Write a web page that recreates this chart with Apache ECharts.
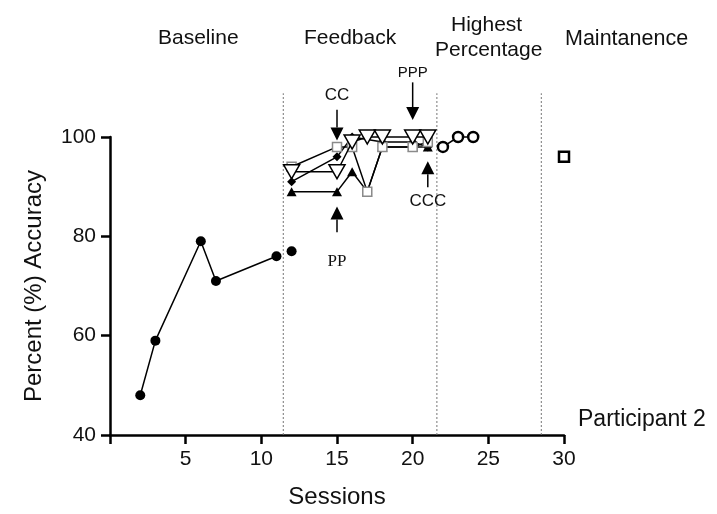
<!DOCTYPE html>
<html>
<head>
<meta charset="utf-8">
<script src="https://cdn.jsdelivr.net/npm/echarts@6/dist/echarts.min.js"></script>
<style>
  html, body { margin: 0; padding: 0; background: #fff; }
  #chart { width: 717px; height: 514px; }
</style>
</head>
<body>
<div id="chart"></div>
<script>
// baseline phase
var baselineSessions = [2, 3, 6, 7, 11];
var baselineValues = [48, 59, 79, 71, 76];
var lateBaselineSessions = [12];
var lateBaselineValues = [77];

// feedback phase, one array per marker type
var feedbackSessions = [12, 15, 16, 17, 18, 20, 21];
var openTriangleValues = [93, 93, 99, 100, 100, 100, 100];
var openSquareValues = [94, 98, 98, 89, 98, 98, 99];
var filledTriangleValues = [89, 89, 93, 89, 98, 98, 98];
var diamondSessions = [12, 15, 16, 18, 20, 21];
var diamondValues = [91, 96, 100, 99, 99, 98];

// highest percentage + maintenance
var highestSessions = [22, 23, 24];
var highestValues = [98, 100, 100];
var maintenanceSessions = [30];
var maintenanceValues = [96];

// phase change lines
var phaseBreaks = [11.45, 21.6, 28.5];

// arrow annotations
var arrowLabels = ['CC', 'PPP', 'PP', 'CCC'];
var arrowSessions = [15, 20, 15, 21];
var arrowStart = [105.5, 111, 80.8, 89.9];
var arrowTip = [99.3, 103.4, 86, 95.1];
var arrowLabelValues = [108.4, 113, 74.9, 87];

var xTicks = [0, 5, 10, 15, 20, 25, 30];
var yTicks = [40, 60, 80, 100];

var FONT = '"Liberation Sans", Arial, sans-serif';

function zip(xs, ys) {
    return xs.map(function (x, i) { return [x, ys[i]]; });
}

var myChart = echarts.init(document.getElementById('chart'));

var lineBase = {
    type: 'line',
    clip: false,
    animation: false,
    lineStyle: { color: '#000', width: 1.5 },
    emphasis: { disabled: true }
};

function lineSeries(extra) {
    return Object.assign({}, lineBase, extra);
}

var option = {
    animation: false,
    grid: { left: 110, right: 153, top: 137, bottom: 79 },
    xAxis: {
        type: 'value',
        min: xTicks[0],
        max: xTicks[xTicks.length - 1],
        interval: 5,
        splitLine: { show: false },
        axisLine: { lineStyle: { color: '#000', width: 2.5 } },
        axisTick: { length: 9, lineStyle: { color: '#000', width: 2.5 } },
        axisLabel: {
            color: '#111', fontSize: 21, fontFamily: FONT, margin: 14,
            formatter: function (v) { return v === 0 ? '' : String(v); }
        },
        name: 'Sessions',
        nameLocation: 'middle',
        nameGap: 50,
        nameTextStyle: { color: '#111', fontSize: 24, fontFamily: FONT }
    },
    yAxis: {
        type: 'value',
        min: yTicks[0],
        max: yTicks[yTicks.length - 1],
        interval: 20,
        splitLine: { show: false },
        axisLine: { show: true, lineStyle: { color: '#000', width: 2.5 } },
        axisTick: { show: true, length: 9, lineStyle: { color: '#000', width: 2.5 } },
        axisLabel: { color: '#111', fontSize: 21, fontFamily: FONT, margin: 14 },
        name: 'Percent (%) Accuracy',
        nameLocation: 'middle',
        nameRotate: 90,
        nameGap: 64,
        nameTextStyle: { color: '#111', fontSize: 24, fontFamily: FONT }
    },
    graphic: [
        { type: 'text', left: 158, top: 28, style: { text: 'Baseline', fontSize: 21, fontFamily: FONT, fill: '#111' } },
        { type: 'text', left: 304, top: 28, style: { text: 'Feedback', fontSize: 21, fontFamily: FONT, fill: '#111' } },
        { type: 'text', left: 451, top: 15, style: { text: 'Highest', fontSize: 21, fontFamily: FONT, fill: '#111' } },
        { type: 'text', left: 435, top: 40, style: { text: 'Percentage', fontSize: 21, fontFamily: FONT, fill: '#111' } },
        { type: 'text', left: 565, top: 28, style: { text: 'Maintanence', fontSize: 21.5, fontFamily: FONT, fill: '#111' } },
        { type: 'text', left: 578, top: 408, style: { text: 'Participant 2', fontSize: 23, fontFamily: FONT, fill: '#111' } }
    ],
    series: [
        {
            type: 'custom',
            clip: false,
            silent: true,
            z: 1,
            data: phaseBreaks.map(function (v) { return [v]; }),
            renderItem: function (params, api) {
                var a = api.coord([api.value(0), 40]);
                var b = api.coord([api.value(0), 108.8]);
                return {
                    type: 'line',
                    shape: { x1: a[0], y1: a[1], x2: b[0], y2: b[1] },
                    style: { stroke: '#777', lineWidth: 1, lineDash: [2, 2] }
                };
            }
        },
        lineSeries({
            data: zip(baselineSessions, baselineValues),
            symbol: 'circle', symbolSize: 10,
            itemStyle: { color: '#000' }, z: 3
        }),
        lineSeries({
            data: zip(lateBaselineSessions, lateBaselineValues),
            symbol: 'circle', symbolSize: 10,
            itemStyle: { color: '#000' }, z: 3
        }),
        lineSeries({
            data: zip(feedbackSessions, filledTriangleValues),
            symbol: 'triangle', symbolSize: [10, 9],
            itemStyle: { color: '#000' }, z: 3
        }),
        lineSeries({
            data: zip(diamondSessions, diamondValues),
            symbol: 'diamond', symbolSize: 9,
            itemStyle: { color: '#000' }, z: 3
        }),
        lineSeries({
            data: zip(feedbackSessions, openSquareValues),
            symbol: 'rect', symbolSize: 9,
            itemStyle: { color: '#fff', borderColor: '#8a8a8a', borderWidth: 1.5 }, z: 4
        }),
        lineSeries({
            data: zip(feedbackSessions, openTriangleValues),
            symbol: 'triangle', symbolRotate: 180, symbolSize: [16, 14],
            itemStyle: { color: '#fff', borderColor: '#000', borderWidth: 1.5 }, z: 5
        }),
        lineSeries({
            data: zip(highestSessions, highestValues),
            symbol: 'circle', symbolSize: 10,
            itemStyle: { color: '#fff', borderColor: '#000', borderWidth: 2.5 }, z: 3
        }),
        lineSeries({
            data: zip(maintenanceSessions, maintenanceValues),
            symbol: 'rect', symbolSize: 10,
            itemStyle: { color: '#fff', borderColor: '#000', borderWidth: 2.5 }, z: 3
        }),
        {
            type: 'custom',
            clip: false,
            silent: true,
            z: 6,
            data: arrowLabels.map(function (l, i) {
                return [arrowSessions[i], arrowStart[i], arrowTip[i], arrowLabelValues[i]];
            }),
            renderItem: function (params, api) {
                var label = arrowLabels[params.dataIndex];
                var s = api.coord([api.value(0), api.value(1)]);
                var t = api.coord([api.value(0), api.value(2)]);
                var l = api.coord([api.value(0), api.value(3)]);
                var dir = t[1] > s[1] ? 1 : -1;
                var head = 13, half = 6.5;
                var serif = label === 'PP';
                return {
                    type: 'group',
                    children: [
                        {
                            type: 'line',
                            shape: { x1: s[0], y1: s[1], x2: t[0], y2: t[1] - dir * head },
                            style: { stroke: '#000', lineWidth: 1.5 }
                        },
                        {
                            type: 'polygon',
                            shape: { points: [[t[0], t[1]], [t[0] - half, t[1] - dir * head], [t[0] + half, t[1] - dir * head]] },
                            style: { fill: '#000' }
                        },
                        {
                            type: 'text',
                            x: l[0], y: l[1],
                            style: {
                                text: label,
                                fontSize: label === 'PPP' ? 15 : 17,
                                fontFamily: serif ? '"Liberation Serif", "Times New Roman", serif' : FONT,
                                fill: '#111',
                                align: 'center',
                                verticalAlign: 'middle'
                            }
                        }
                    ]
                };
            }
        }
    ]
};

myChart.setOption(option);
</script>
</body>
</html>
